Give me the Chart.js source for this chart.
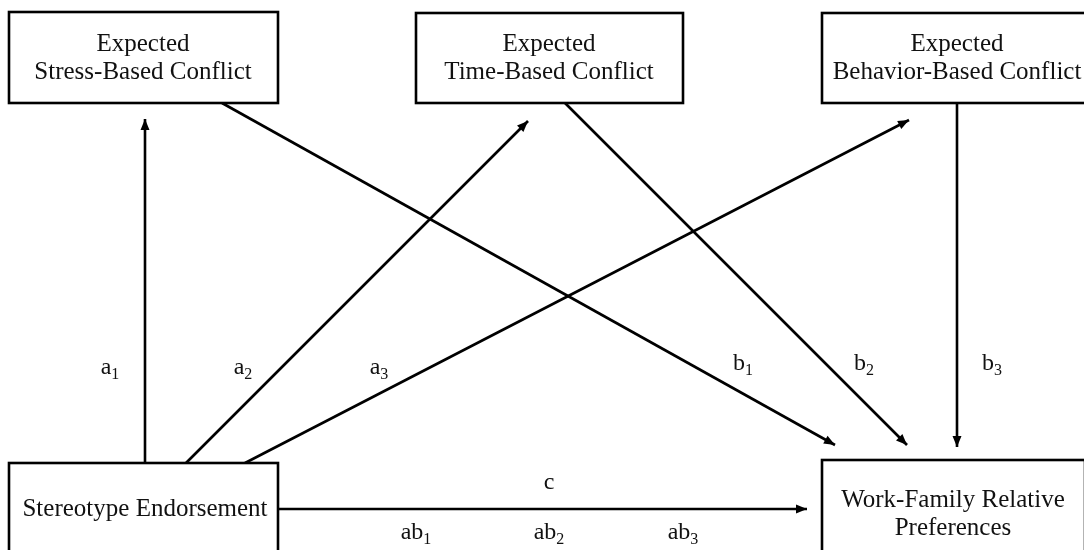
<!DOCTYPE html>
<html>
<head>
<meta charset="utf-8">
<style>
  html, body { margin: 0; padding: 0; background: #fff; }
  #wrap { width: 1084px; height: 550px; }
</style>
<script src="https://cdn.jsdelivr.net/npm/chart.js@4.4.0/dist/chart.umd.min.js"></script>
</head>
<body>
<div id="wrap"><canvas id="diagram" width="1084" height="550"></canvas></div>
<script>
  // nodes of the path model
  const nodeNames = ['stress', 'time', 'behavior', 'stereo', 'wfp'];
  const nodeLines = [
    ['Expected', 'Stress-Based Conflict'],
    ['Expected', 'Time-Based Conflict'],
    ['Expected', 'Behavior-Based Conflict'],
    ['Stereotype Endorsement'],
    ['Work-Family Relative', 'Preferences']
  ];
  // box corners [left, top, right, bottom] in diagram units
  const nodeBoxes = [
    [9, 12, 278, 103],
    [416, 13, 683, 103],
    [822, 13, 1093, 103],
    [9, 463, 278, 565],
    [822, 460, 1085, 565]
  ];
  const nodeTextCenter = [[143, 58], [549, 58], [957, 58], [145, 509], [953, 514]];

  // paths: start and end of each arrow
  const pathNames = ['a1', 'a2', 'a3', 'b1', 'b2', 'b3', 'c'];
  const pathStart = [[145, 463], [186, 463], [245, 463], [222, 103], [565, 103], [957, 103], [278, 509]];
  const pathEnd = [[145, 119], [528, 121], [909, 120], [835, 445], [907, 445], [957, 447], [807, 509]];

  // coefficient labels: base letter, subscript, centre
  const labelBase = ['a', 'a', 'a', 'b', 'b', 'b', 'c', 'ab', 'ab', 'ab'];
  const labelSub = ['1', '2', '3', '1', '2', '3', '', '1', '2', '3'];
  const labelPos = [[110, 368], [243, 368], [379, 368], [743, 364], [864, 364], [992, 364],
                    [549, 483], [416, 533], [549, 533], [683, 533]];

  const serif = '"Liberation Serif", "Times New Roman", serif';

  const datasets = pathNames.map((name, i) => ({
    label: name,
    data: [
      { x: pathStart[i][0], y: pathStart[i][1] },
      { x: pathEnd[i][0], y: pathEnd[i][1] }
    ],
    showLine: true,
    borderColor: '#000',
    borderWidth: 2.6,
    pointRadius: 0,
    fill: false
  }));

  const diagramPlugin = {
    id: 'diagram',
    afterDatasetsDraw(chart) {
      const ctx = chart.ctx;
      const xs = chart.scales.x;
      const ys = chart.scales.y;
      const px = v => xs.getPixelForValue(v);
      const py = v => ys.getPixelForValue(v);
      ctx.save();

      // arrow heads
      ctx.fillStyle = '#000';
      chart.data.datasets.forEach(ds => {
        const p0 = ds.data[0], p1 = ds.data[1];
        const x0 = px(p0.x), y0 = py(p0.y), x1 = px(p1.x), y1 = py(p1.y);
        const ang = Math.atan2(y1 - y0, x1 - x0);
        const len = 11, half = 4.5;
        ctx.beginPath();
        ctx.moveTo(x1, y1);
        ctx.lineTo(x1 - len * Math.cos(ang) + half * Math.sin(ang), y1 - len * Math.sin(ang) - half * Math.cos(ang));
        ctx.lineTo(x1 - len * Math.cos(ang) - half * Math.sin(ang), y1 - len * Math.sin(ang) + half * Math.cos(ang));
        ctx.closePath();
        ctx.fill();
      });

      // boxes
      ctx.strokeStyle = '#000';
      ctx.lineWidth = 2.6;
      nodeBoxes.forEach((b, i) => {
        const l = px(b[0]), t = py(b[1]), r = px(b[2]), btm = py(b[3]);
        ctx.fillStyle = '#fff';
        ctx.fillRect(l, t, r - l, btm - t);
        ctx.strokeRect(l, t, r - l, btm - t);
        ctx.fillStyle = '#111';
        ctx.font = '25px ' + serif;
        ctx.textAlign = 'center';
        ctx.textBaseline = 'middle';
        const lines = nodeLines[i];
        const cx = px(nodeTextCenter[i][0]), cy = py(nodeTextCenter[i][1]);
        const lh = 28;
        lines.forEach((s, k) => {
          ctx.fillText(s, cx, cy + (k - (lines.length - 1) / 2) * lh);
        });
      });

      // coefficient labels
      ctx.fillStyle = '#111';
      ctx.textBaseline = 'alphabetic';
      labelBase.forEach((base, i) => {
        ctx.font = '24px ' + serif;
        const wBase = ctx.measureText(base).width;
        ctx.font = '16px ' + serif;
        const wSub = labelSub[i] ? ctx.measureText(labelSub[i]).width : 0;
        const total = wBase + wSub;
        const x = px(labelPos[i][0]) - total / 2;
        const y = py(labelPos[i][1]) + 6;
        ctx.textAlign = 'left';
        ctx.font = '24px ' + serif;
        ctx.fillText(base, x, y);
        if (labelSub[i]) {
          ctx.font = '16px ' + serif;
          ctx.fillText(labelSub[i], x + wBase, y + 5);
        }
      });
      ctx.restore();
    }
  };

  new Chart(document.getElementById('diagram').getContext('2d'), {
    type: 'scatter',
    data: { datasets },
    options: {
      responsive: false,
      animation: false,
      layout: { padding: 0 },
      plugins: { legend: { display: false }, tooltip: { enabled: false } },
      scales: {
        x: { type: 'linear', min: 0, max: 1084, display: false },
        y: { type: 'linear', min: 0, max: 550, reverse: true, display: false }
      }
    },
    plugins: [diagramPlugin]
  });
</script>
</body>
</html>
